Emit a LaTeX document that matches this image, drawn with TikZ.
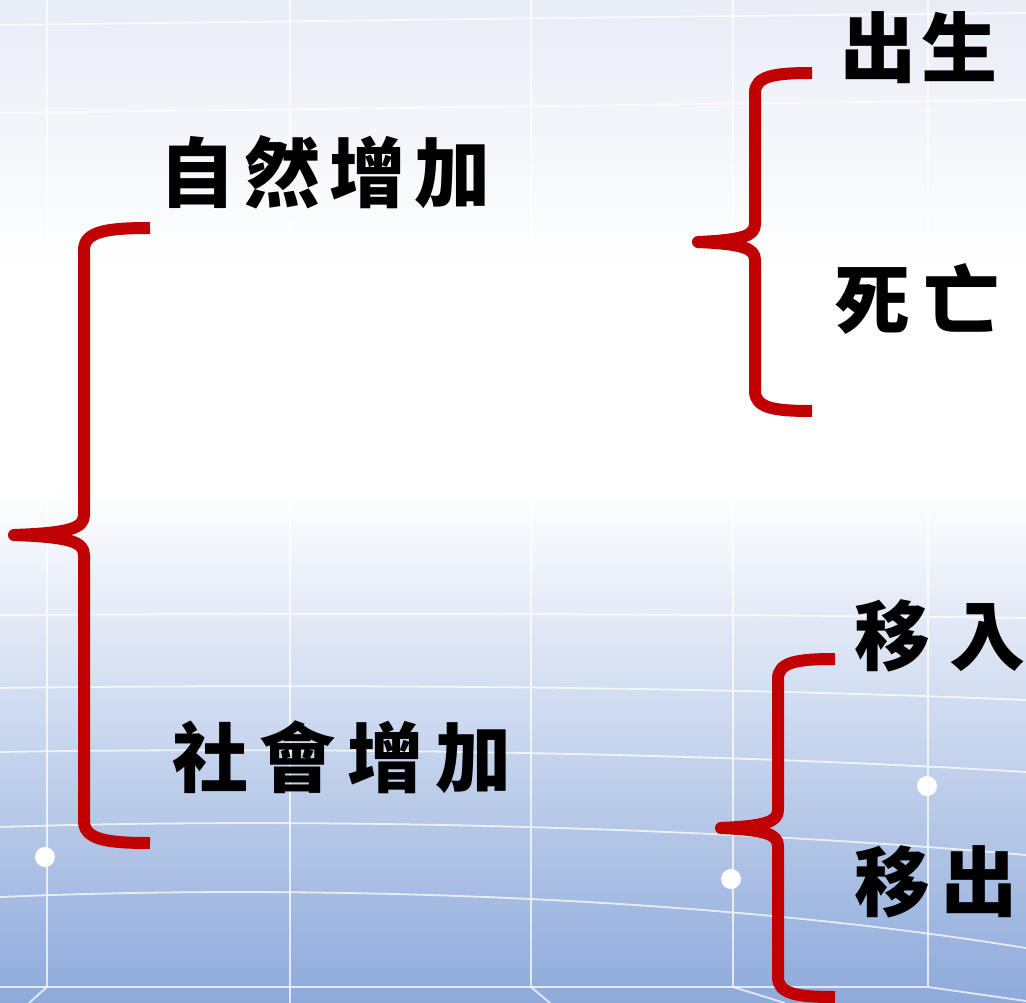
\documentclass[tikz,border=0pt]{standalone}
\usepackage{fontspec}
\newfontfamily\cjk{Noto Sans CJK TC}
\newcommand\gp[1]{\hspace{#1pt}}
\definecolor{bred}{RGB}{192,0,0}
\definecolor{topc}{RGB}{232,236,245}
\definecolor{botc}{RGB}{142,170,219}
\tikzset{
  bracepath/.style={draw=bred, line width=12pt, line cap=butt, line join=round},
  lbl/.style={inner sep=0pt, text=black, font=\cjk\bfseries\fontsize{76pt}{86pt}\selectfont},
  gridl/.style={draw=white, line width=1.8pt, opacity=0.75},
  dotw/.style={fill=white}
}
\begin{document}
\begin{tikzpicture}[x=1pt,y=-1pt]
\useasboundingbox (0,0) rectangle (1026,1003);
% background
\shade[top color=topc, bottom color=white] (0,0) rectangle (1026,270);
\fill[white] (0,269) rectangle (1026,491);
\shade[top color=white, bottom color=botc] (0,490) rectangle (1026,1003);
% grid
\foreach \gx in {47,290,531,733,928} \draw[gridl] (\gx,0) -- (\gx,987);
\draw[gridl] (0,25) .. controls (400,20) and (700,16) .. (1026,13);
\draw[gridl] (0,113) .. controls (400,108) and (700,104) .. (1026,100);
\draw[gridl] (0,615) .. controls (400,613) and (700,614) .. (1026,618);
\draw[gridl] (0,688) .. controls (300,684) and (700,686) .. (1026,700);
\draw[gridl] (0,752) .. controls (300,747) and (700,752) .. (1026,772);
\draw[gridl] (0,827) .. controls (300,817) and (700,826) .. (1026,855);
\draw[gridl] (0,897) .. controls (300,884) and (700,895) .. (1026,948);
\draw[gridl] (0,987) -- (928,987) -- (1026,1001);
\draw[gridl] (47,987) -- (29,1003);
\draw[gridl] (290,987) -- (290,1003);
\draw[gridl] (531,987) -- (550,1003);
\draw[gridl] (733,987) -- (785,1003);
% white dots
\fill[dotw] (45,857) circle (10);
\fill[dotw] (731,879) circle (10);
\fill[dotw] (927,786) circle (10);
% braces
\path[bracepath] (150,228) .. controls (108,228) and (84,231) .. (84,250) -- (84,515)
  .. controls (84,528) and (70,533) .. (14,535)
  .. controls (70,537) and (84,542) .. (84,555) -- (84,821)
  .. controls (84,840) and (108,843) .. (150,843);
\path[bracepath] (812,73) .. controls (774,73) and (755,76) .. (755,93) -- (755,224)
  .. controls (755,236) and (742,240) .. (698,242)
  .. controls (742,244) and (755,248) .. (755,260) -- (755,391)
  .. controls (755,408) and (774,411) .. (812,411);
\path[bracepath] (835,659) .. controls (797,659) and (778,662) .. (778,679) -- (778,810)
  .. controls (778,822) and (765,826) .. (721,828)
  .. controls (765,830) and (778,834) .. (778,846) -- (778,977)
  .. controls (778,994) and (797,997) .. (835,997);
% labels
\node[lbl] (t1) at (325,172) {自\gp{9}然\gp{9}增\gp{9}加};
\node[lbl] (t2) at (342,757) {社\gp{12}會\gp{12}增\gp{12}加};
\node[lbl] (t3) at (919,48) {出\gp{6}生};
\node[lbl] (t4) at (917,299) {死\gp{13}亡};
\node[lbl] (t5) at (940,636) {移\gp{19}入};
\node[lbl] (t6) at (936,882) {移\gp{12}出};
\end{tikzpicture}
\end{document}
